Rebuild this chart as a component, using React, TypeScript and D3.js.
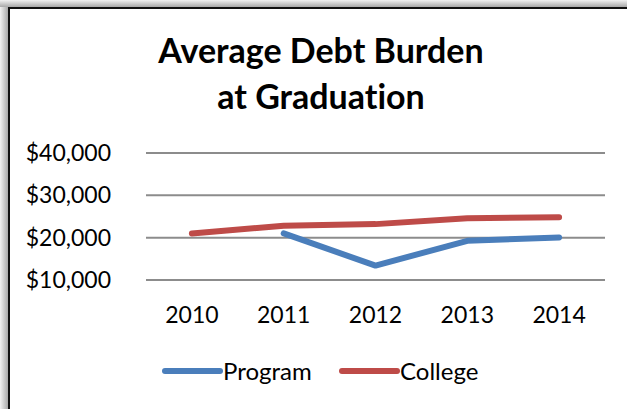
import * as d3 from 'd3';
import { useEffect, useRef } from 'react';

// Chart data
const years = ['2010', '2011', '2012', '2013', '2014'];
const programValues: (number | null)[] = [null, 21000, 13400, 19250, 20050];
const collegeValues: (number | null)[] = [21000, 22800, 23200, 24600, 24800];
const yTicks = [10000, 20000, 30000, 40000];

const FONT = 'Lato, "Open Sans", sans-serif';

const App = () => {
  const ref = useRef<SVGSVGElement>(null);

  useEffect(() => {
    const svg = d3.select(ref.current);
    svg.selectAll('*').remove();

    const width = 627, height = 409;
    svg.attr('width', width).attr('height', height)
      .style('font-variant-ligatures', 'none');

    // Shadow gradients round the frame
    const defs = svg.append('defs');
    const gl = defs.append('linearGradient').attr('id', 'shL').attr('x1', 0).attr('x2', 1).attr('y1', 0).attr('y2', 0);
    gl.append('stop').attr('offset', '0%').attr('stop-color', '#f2f2f2');
    gl.append('stop').attr('offset', '100%').attr('stop-color', '#a8a8a8');
    const gt = defs.append('linearGradient').attr('id', 'shT').attr('x1', 0).attr('x2', 0).attr('y1', 0).attr('y2', 1);
    gt.append('stop').attr('offset', '0%').attr('stop-color', '#f2f2f2');
    gt.append('stop').attr('offset', '100%').attr('stop-color', '#a8a8a8');

    svg.append('rect').attr('x', 0).attr('y', 0).attr('width', width).attr('height', height).attr('fill', 'white');
    svg.append('rect').attr('x', 0).attr('y', 0).attr('width', 8).attr('height', height).attr('fill', 'url(#shL)');
    svg.append('rect').attr('x', 0).attr('y', 0).attr('width', width).attr('height', 7).attr('fill', 'url(#shT)');

    // Frame
    svg.append('rect')
      .attr('x', 9).attr('y', 8)
      .attr('width', width + 10).attr('height', height + 10)
      .attr('fill', 'white')
      .attr('stroke', '#111')
      .attr('stroke-width', 2);

    // Title
    const title = svg.append('text')
      .attr('text-anchor', 'middle')
      .attr('font-family', FONT)
      .attr('font-weight', 'bold')
      .attr('font-size', 34)
      .attr('fill', '#000');
    title.append('tspan').attr('x', 321).attr('y', 63).text('Average Debt Burden');
    title.append('tspan').attr('x', 321).attr('y', 109).text('at Graduation');

    // Scales
    const plot = { left: 146, right: 605, top: 153, bottom: 280 };
    const x = d3.scaleBand<string>().domain(years).range([plot.left, plot.right]);
    const y = d3.scaleLinear().domain([10000, 40000]).range([plot.bottom, plot.top]);
    const fmt = d3.format('$,');

    // Gridlines
    svg.append('g')
      .selectAll('line')
      .data(yTicks)
      .enter()
      .append('line')
      .attr('x1', plot.left).attr('x2', plot.right)
      .attr('y1', d => y(d)).attr('y2', d => y(d))
      .attr('stroke', '#8c8c8c')
      .attr('stroke-width', 2);

    // Y labels
    svg.append('g')
      .selectAll('text')
      .data(yTicks)
      .enter()
      .append('text')
      .attr('x', 111)
      .attr('y', d => y(d) + 8)
      .attr('text-anchor', 'end')
      .attr('font-family', FONT)
      .attr('font-size', 23)
      .text(d => fmt(d));

    // X labels
    svg.append('g')
      .selectAll('text')
      .data(years)
      .enter()
      .append('text')
      .attr('x', d => (x(d) ?? 0) + x.bandwidth() / 2)
      .attr('y', 323)
      .attr('text-anchor', 'middle')
      .attr('font-family', FONT)
      .attr('font-size', 23)
      .text(d => d);

    // Lines
    const series = [
      { name: 'Program', values: programValues, color: '#4a7ebb' },
      { name: 'College', values: collegeValues, color: '#be4b48' },
    ];
    const line = d3.line<number | null>()
      .defined(d => d !== null)
      .x((_, i) => (x(years[i]) ?? 0) + x.bandwidth() / 2)
      .y(d => y(d as number));

    series.forEach(s => {
      svg.append('path')
        .attr('d', line(s.values))
        .attr('fill', 'none')
        .attr('stroke', s.color)
        .attr('stroke-width', 6)
        .attr('stroke-linecap', 'round')
        .attr('stroke-linejoin', 'round');
    });

    // Legend
    const legendX = [165, 342];
    series.forEach((s, i) => {
      const g = svg.append('g').attr('transform', `translate(${legendX[i]}, 371)`);
      g.append('line')
        .attr('x1', 0).attr('x2', 55)
        .attr('y1', 0).attr('y2', 0)
        .attr('stroke', s.color)
        .attr('stroke-width', 6)
        .attr('stroke-linecap', 'round');
      g.append('text')
        .attr('x', 58)
        .attr('y', 9)
        .attr('font-family', FONT)
        .attr('font-size', 24)
        .text(s.name);
    });
  }, []);

  return <svg ref={ref} style={{ position: 'absolute', left: 0, top: 0 }}></svg>;
};

export default App;
